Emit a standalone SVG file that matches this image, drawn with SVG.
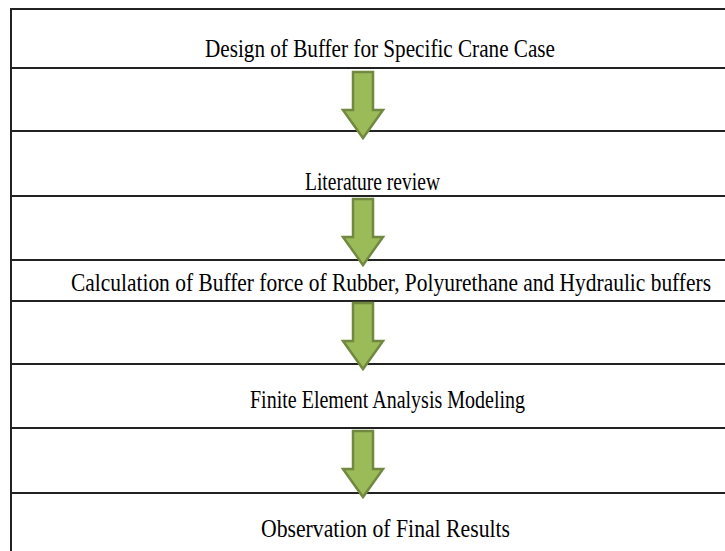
<svg xmlns="http://www.w3.org/2000/svg" width="725" height="551" viewBox="0 0 725 551">
  <style>
    .rule { stroke: #222; stroke-width: 2; fill: none; }
    .label { font-family: "Times New Roman", "Liberation Serif", Tinos, "DejaVu Serif", serif; font-size: 26px; fill: #000; text-anchor: middle; }
    .flow { fill: #9bbb59; stroke: #71893f; stroke-width: 2.5; stroke-linejoin: miter; }
  </style>
  <defs>
    <!-- block down-arrow, tip at origin -->
    <path id="down" d="M -10 -66 L 10 -66 L 10 -28 L 20 -28 L 0 0 L -20 -28 L -10 -28 Z"/>
  </defs>
  <rect width="725" height="551" fill="#fff"/>

  <!-- table frame -->
  <g id="frame">
    <line class="rule" x1="11" y1="9" x2="11" y2="551"/>
    <line class="rule" x1="10" y1="9" x2="725" y2="9"/>
    <line class="rule" x1="11" y1="68" x2="725" y2="68"/>
    <line class="rule" x1="11" y1="131" x2="725" y2="131"/>
    <line class="rule" x1="11" y1="196" x2="725" y2="196"/>
    <line class="rule" x1="11" y1="260" x2="725" y2="260"/>
    <line class="rule" x1="11" y1="301" x2="725" y2="301"/>
    <line class="rule" x1="11" y1="364" x2="725" y2="364"/>
    <line class="rule" x1="11" y1="428" x2="725" y2="428"/>
    <line class="rule" x1="11" y1="493" x2="725" y2="493"/>
  </g>

  <g id="design">
    <text class="label" x="380" y="57" textLength="350" lengthAdjust="spacingAndGlyphs">Design of Buffer for Specific Crane Case</text>
  </g>
  <g id="literature">
    <text class="label" x="372.5" y="190" textLength="135" lengthAdjust="spacingAndGlyphs">Literature review</text>
  </g>
  <g id="calculation">
    <text class="label" x="391" y="291" font-size="25" textLength="640" lengthAdjust="spacingAndGlyphs">Calculation of Buffer force of Rubber, Polyurethane and Hydraulic buffers</text>
  </g>
  <g id="fea">
    <text class="label" x="387.5" y="408" textLength="275" lengthAdjust="spacingAndGlyphs">Finite Element Analysis Modeling</text>
  </g>
  <g id="results">
    <text class="label" x="385.5" y="537" textLength="249" lengthAdjust="spacingAndGlyphs">Observation of Final Results</text>
  </g>

  <!-- connectors -->
  <g id="connectors">
    <use class="flow" href="#down" transform="translate(363,138)"/>
    <use class="flow" href="#down" transform="translate(363,265)"/>
    <use class="flow" href="#down" transform="translate(363,369)"/>
    <use class="flow" href="#down" transform="translate(363,497)"/>
  </g>
</svg>
